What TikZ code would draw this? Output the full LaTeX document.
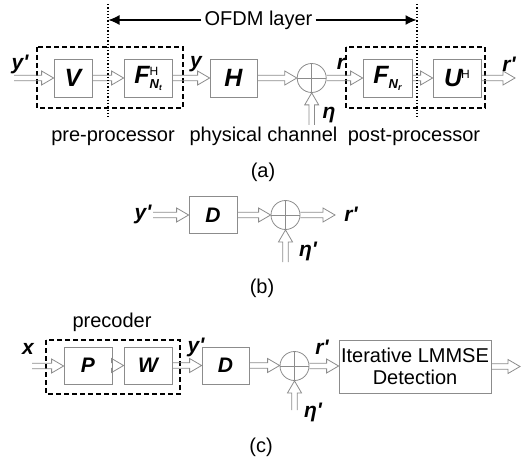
\documentclass[tikz,border=0pt]{standalone}
\usepackage{fontspec}
\setmainfont{Liberation Sans}
\newfontfamily\mvfont{Liberation Sans}
\usetikzlibrary{calc,arrows.meta}
\definecolor{bx}{RGB}{140,140,140}
\newcommand{\mvl}[1]{{\mvfont\bfseries\itshape #1}}
\newcommand{\fsz}[1]{\fontsize{#1}{#1}\selectfont}
\tikzset{
  box/.style={draw=bx, line width=0.8pt, minimum height=38pt, inner sep=0pt, font=\fsz{25}},
  sbox/.style={draw=bx, line width=0.8pt, minimum height=37pt, inner sep=0pt, font=\fsz{21}},
  sumnode/.style={circle, draw=bx, line width=0.8pt, minimum size=29pt, inner sep=0pt,
    path picture={\draw[bx, line width=0.6pt] (path picture bounding box.north) -- (path picture bounding box.south)
      (path picture bounding box.west) -- (path picture bounding box.east);}},
  dbox/.style={draw=black, dashed, line width=1.5pt, dash pattern=on 5pt off 3pt},
  dline/.style={draw=black, line width=1.3pt, dash pattern=on 1.3pt off 2pt},
  lbl/.style={font=\fsz{21}, inner sep=0pt},
  txt/.style={font=\fsz{20}, inner sep=0pt},
  blkR/.style={draw=bx, line width=0.8pt, to path={let \p1=(\tikztostart), \p2=(\tikztotarget) in
    (\x1,\y1+2.8pt) -- (\x2-12pt,\y1+2.8pt) -- (\x2-12pt,\y1+7pt) -- (\x2,\y1) -- (\x2-12pt,\y1-7pt) -- (\x2-12pt,\y1-2.8pt) -- (\x1,\y1-2.8pt)}},
  blkU/.style={draw=bx, line width=0.8pt, to path={let \p1=(\tikztostart), \p2=(\tikztotarget) in
    (\x1-2.8pt,\y1) -- (\x1-2.8pt,\y2-12pt) -- (\x1-7pt,\y2-12pt) -- (\x1,\y2) -- (\x1+7pt,\y2-12pt) -- (\x1+2.8pt,\y2-12pt) -- (\x1+2.8pt,\y1)}}
}
\begin{document}
\begin{tikzpicture}[x=1pt,y=-1pt]
\useasboundingbox (0,0) rectangle (526,462);
% ---------- (a)
\draw[dbox] (37,47) rectangle (183,108);
\draw[dbox] (346,47) rectangle (485,108);
\node[box, minimum width=38pt] (V) at (73,78) {\mvl{V}};
\node[box, minimum width=48pt] (F) at (148,78) {\mvl{F}\rlap{\raisebox{8pt}{\fsz{12}H}}\raisebox{-5pt}{\fsz{13}\mvl{N}\raisebox{-2pt}{\fsz{8}\mvl{t}}}};
\node[box, minimum width=47pt] (H) at (233.5,78) {\mvl{H}};
\node[sumnode] (S1) at (311.7,78) {};
\node[box, minimum width=49pt] (FN) at (387.5,78) {\mvl{F}\raisebox{-5pt}{\fsz{13}\mvl{N}\raisebox{-2pt}{\fsz{9}\mvl{r}}}};
\node[box, minimum width=48pt] (U) at (457,78) {\mvl{U}\kern-1pt\raisebox{8pt}{\fsz{12}H}};
\coordinate (ain) at (14,78);
\coordinate (aout) at (515,78);
\coordinate (etaA) at (311.7,125);
\draw[blkR] (ain) to (V.west);
\draw[blkR] (V.east) to (F.west);
\draw[blkR] (F.east) to (H.west);
\draw[blkR] (H.east) to (S1.west);
\draw[blkR] (S1.east) to (FN.west);
\draw[blkR] (FN.east) to (U.west);
\draw[blkR] (U.east) to (aout);
\draw[blkU] (etaA) to (S1.south);
\node[lbl] (ly1) at (20,64) {\mvl{y'}};
\node[lbl] (ly) at (196,64) {\mvl{y}};
\node[lbl] (lr) at (341,64) {\mvl{r}};
\node[lbl] (lr1) at (509,64) {\mvl{r'}};
\node[lbl] (leta) at (329,115) {\mvl{η}};
% dotted lines and OFDM arrow
\coordinate (d1t) at (108,4); \coordinate (d1b) at (108,117);
\coordinate (d2t) at (417,4); \coordinate (d2b) at (417,117);
\draw[dline] (d1t) -- (d1b);
\draw[dline] (d2t) -- (d2b);
\node[font=\fsz{20}, inner sep=3pt] (ofdm) at (258.5,20) {OFDM layer};
\coordinate (oL) at (108.5,20); \coordinate (oR) at (416.5,20);
\draw[line width=1.2pt, -{Latex[length=11pt,width=10pt]}] (ofdm.west) -- (oL);
\draw[line width=1.2pt, -{Latex[length=11pt,width=10pt]}] (ofdm.east) -- (oR);
\node[txt, anchor=base] (pre) at (113,142) {pre-processor};
\node[txt, anchor=base] (phy) at (263.5,142) {physical channel};
\node[txt, anchor=base] (post) at (414,142) {post-processor};
\node[txt, anchor=base] (capa) at (263,178) {(a)};
% ---------- (b)
\node[sbox, minimum width=48pt] (Db) at (213,215) {\mvl{D}};
\node[sumnode] (S2) at (285.5,215) {};
\coordinate (bin) at (153,215);
\coordinate (bout) at (335,215);
\coordinate (etaB) at (285.5,262);
\draw[blkR] (bin) to (Db.west);
\draw[blkR] (Db.east) to (S2.west);
\draw[blkR] (S2.east) to (bout);
\draw[blkU] (etaB) to (S2.south);
\node[lbl] (lyb) at (143,214) {\mvl{y'}};
\node[lbl] (lrb) at (351,214) {\mvl{r'}};
\node[lbl] (letab) at (308,251) {\mvl{η'}};
\node[txt, anchor=base] (capb) at (262,293) {(b)};
% ---------- (c)
\draw[dbox] (46,340) rectangle (180,394);
\node[txt, anchor=base] (prec) at (112,327) {precoder};
\node[sbox, minimum width=48pt] (P) at (88,365.5) {\mvl{P}};
\node[sbox, minimum width=48pt] (W) at (148,365.5) {\mvl{W}};
\node[sbox, minimum width=47pt] (Dc) at (225.5,365.5) {\mvl{D}};
\node[sumnode] (S3) at (294.5,366) {};
\node[draw=bx, line width=0.8pt, minimum width=152pt, minimum height=53pt, inner sep=0pt,
      font=\fontsize{20}{22}\selectfont, align=center] (det) at (415,366.5) {Iterative LMMSE\\Detection};
\coordinate (cin) at (32,366);
\coordinate (cout) at (520,366);
\coordinate (etaC) at (294.5,410);
\draw[blkR] (cin) to (P.west);
\draw[blkR] (P.east) to (W.west);
\draw[blkR] (W.east) to (Dc.west);
\draw[blkR] (Dc.east) to (S3.west);
\draw[blkR] (S3.east) to (det.west);
\draw[blkR] (det.east) to (cout);
\draw[blkU] (etaC) to (S3.south);
\node[lbl] (lx) at (28,349) {\mvl{x}};
\node[lbl] (lyc) at (196,347) {\mvl{y'}};
\node[lbl] (lrc) at (322,347) {\mvl{r'}};
\node[lbl] (letac) at (313,412) {\mvl{η'}};
\node[txt, anchor=base] (capc) at (261,452) {(c)};
\end{tikzpicture}
\end{document}
